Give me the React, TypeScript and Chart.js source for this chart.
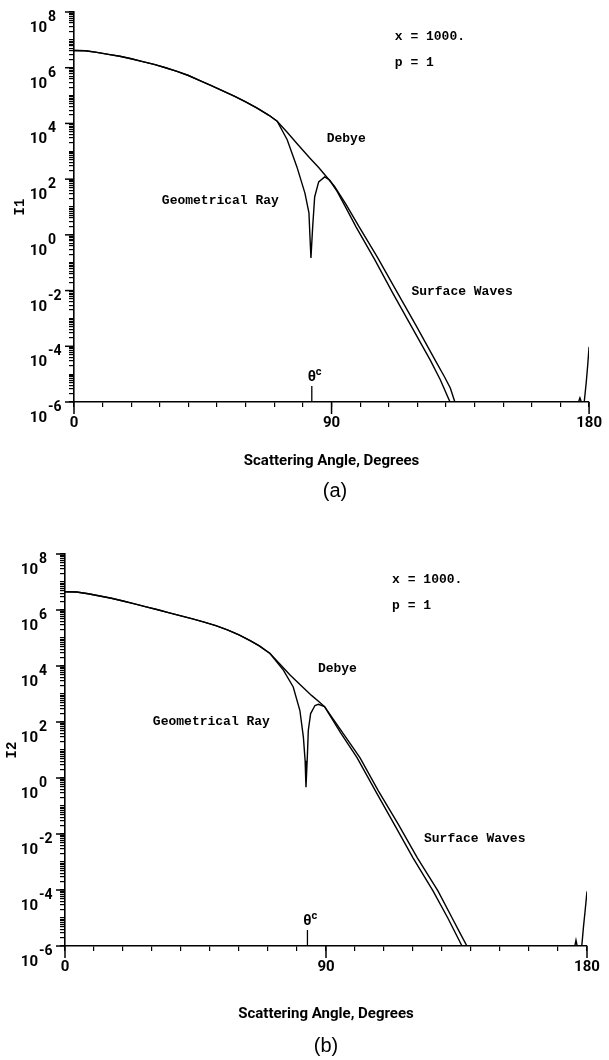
import React, { useEffect, useRef } from 'react';
import { Chart, registerables } from 'chart.js';

Chart.register(...registerables);

// ---------------- data ----------------
const X_TICK_LABELS = [0, 90, 180];
const X_MINOR_TICKS = [0, 10, 20, 30, 40, 50, 60, 70, 80, 90, 100, 110, 120, 130, 140, 150, 160, 170, 180];
const Y_LABEL_EXPONENTS = [8, 6, 4, 2, 0, -2, -4, -6];
const Y_DECADES = [-6, -5, -4, -3, -2, -1, 0, 1, 2, 3, 4, 5, 6, 7];
const Y_MULTIPLIERS = [1, 2, 3, 4, 5, 6, 7, 8, 9];

// Panel (a): I1
const A_DEBYE_ANGLE = [0, 4, 8, 12, 16, 20, 24, 28, 32, 36, 40, 44, 48, 52, 56, 60, 64, 68, 71,
  74.5, 77.9, 82.4, 85.5, 88.3, 91, 95, 99.7, 106, 113.1, 119.5, 126.2, 129.5, 131.5, 133.1,
  145, 160, 176.3, 176.8, 177.3, 178.3, 179, 179.5, 180];
const A_DEBYE_I1 = [4.17e6, 4.07e6, 3.55e6, 3.02e6, 2.57e6, 2.09e6, 1.66e6, 1.32e6, 1.0e6, 7.4e5, 5.25e5, 3.47e5, 2.29e5, 1.48e5, 9.5e4, 5.9e4, 3.55e4, 2.0e4, 1.2e4,
  4.8e3, 1.9e3, 575, 263, 120, 56, 12.6, 1.9, 0.158, 8.1e-3, 5.6e-4, 3.2e-5, 7.9e-6, 3.2e-6, 1e-6,
  1e-6, 1e-6, 1e-6, 1.4e-6, 1e-6, 1e-6, 5e-6, 2e-5, 9.5e-5];
const A_RAY_ANGLE = [0, 4, 8, 12, 16, 20, 24, 28, 32, 36, 40, 44, 48, 52, 56, 60, 64, 68, 71,
  74.5, 77.9, 80.7, 82.1, 82.4, 82.8, 83.4, 84.1, 85.5, 87.6, 89.3, 92, 95, 98.6, 105, 111.4, 118, 124.5, 128, 131.4, 150, 178];
const A_RAY_I1 = [4.17e6, 4.07e6, 3.55e6, 3.02e6, 2.57e6, 2.09e6, 1.66e6, 1.32e6, 1.0e6, 7.4e5, 5.25e5, 3.47e5, 2.29e5, 1.48e5, 9.5e4, 5.9e4, 3.55e4, 2.0e4, 1.2e4,
  2.6e3, 275, 31.6, 6.2, 1.17, 0.148, 1.9, 22.9, 79.4, 120, 93, 35.5, 9.5, 1.9, 0.135, 8.1e-3, 5.0e-4, 3.2e-5, 6.3e-6, 1e-6, 1e-6, 1e-6];

// Panel (b): I2
const B_DEBYE_ANGLE = [0, 4, 8, 12, 16, 20, 24, 28, 32, 36, 40, 44, 48, 52, 56, 60, 64, 67, 70.7,
  74, 77.6, 82.2, 85, 87.9, 89.5, 95, 101.7, 108, 114.8, 121.5, 128.6, 133.5, 136, 138.6,
  150, 165, 175.8, 176.2, 176.6, 178.2, 178.8, 179.3, 180];
const B_DEBYE_I2 = [4.47e6, 4.37e6, 3.8e6, 3.16e6, 2.63e6, 2.09e6, 1.66e6, 1.29e6, 1.02e6, 7.9e5, 6.2e5, 4.8e5, 3.7e5, 2.75e5, 1.95e5, 1.29e5, 7.9e4, 5.2e4, 2.8e4,
  1.2e4, 4.8e3, 1.66e3, 891, 501, 355, 53.7, 5.37, 0.355, 0.0234, 1.41e-3, 9.3e-5, 1e-5, 3.2e-6, 1e-6,
  1e-6, 1e-6, 1e-6, 1.6e-6, 1e-6, 1e-6, 5e-6, 1.6e-5, 8.9e-5];
const B_RAY_ANGLE = [0, 4, 8, 12, 16, 20, 24, 28, 32, 36, 40, 44, 48, 52, 56, 60, 64, 67, 70.7,
  75.3, 78.7, 81.0, 82.2, 82.8, 83.1, 83.6, 83.9, 84.7, 86.2, 87.4, 89.5, 95, 100.7, 107, 113.4, 120, 126.9, 132, 136.9, 155, 178];
const B_RAY_I2 = [4.47e6, 4.37e6, 3.8e6, 3.16e6, 2.63e6, 2.09e6, 1.66e6, 1.29e6, 1.02e6, 7.9e5, 6.2e5, 4.8e5, 3.7e5, 2.75e5, 1.95e5, 1.29e5, 7.9e4, 5.2e4, 2.8e4,
  7.1e3, 1.78e3, 257, 28.8, 4.17, 0.47, 7.2, 50, 200, 389, 427, 355, 41.7, 5.37, 0.355, 0.0234, 1.41e-3, 9.3e-5, 1e-5, 1e-6, 1e-6, 1e-6];

const THETA_C_A = 83.1;
const THETA_C_B = 83.6;

// annotation texts (anchored in data coordinates: angle, intensity)
const A_NOTES = [
  { text: 'x = 1000.', x: 112.1, y: 1.26e7 },
  { text: 'p = 1', x: 112.1, y: 1.5e6 },
  { text: 'Debye', x: 88.3, y: 2.8e3 },
  { text: 'Geometrical Ray', x: 30.7, y: 16.6 },
  { text: 'Surface Waves', x: 117.9, y: 8.9e-3 },
];
const B_NOTES = [
  { text: 'x = 1000.', x: 112.8, y: 1.2e7 },
  { text: 'p = 1', x: 112.8, y: 1.4e6 },
  { text: 'Debye', x: 87.2, y: 8.3e3 },
  { text: 'Geometrical Ray', x: 30.3, y: 105 },
  { text: 'Surface Waves', x: 123.8, y: 6.8e-3 },
];

// ---------------- helpers ----------------
const zip = (xs: number[], ys: number[]) => xs.map((x, i) => ({ x, y: ys[i] }));
const Y_TICK_VALUES = (() => {
  const out: number[] = [];
  for (const d of Y_DECADES) for (const m of Y_MULTIPLIERS) out.push(m * Math.pow(10, d));
  out.push(1e8);
  return out;
})();

const NUM_FONT = "Roboto, 'DejaVu Sans', sans-serif";
const MONO_FONT = "'Liberation Mono', 'DejaVu Sans Mono', monospace";

const overlayPlugin = {
  id: 'overlay',
  afterDraw(chart: any, _args: any, opts: any) {
    const { ctx, chartArea } = chart;
    const xs = chart.scales.x;
    const ys = chart.scales.y;
    const left = chartArea.left;
    const bottom = chartArea.bottom;
    ctx.save();
    ctx.fillStyle = '#000';
    ctx.strokeStyle = '#000';
    // y major ticks and labels 10^n
    ctx.lineWidth = 1.5;
    for (const e of Y_LABEL_EXPONENTS) {
      const py = ys.getPixelForValue(Math.pow(10, e));
      ctx.beginPath();
      ctx.moveTo(left - 9, py);
      ctx.lineTo(left, py);
      ctx.stroke();
      ctx.font = `bold 15px ${NUM_FONT}`;
      ctx.textBaseline = 'alphabetic';
      ctx.textAlign = 'right';
      ctx.fillText('10', left - 27, py + 20);
      ctx.textAlign = 'left';
      ctx.font = `bold 14px ${NUM_FONT}`;
      ctx.fillText(String(e), left - 26, py + 9);
    }
    // x major ticks
    for (const v of X_TICK_LABELS) {
      const px = xs.getPixelForValue(v);
      ctx.beginPath();
      ctx.moveTo(px, bottom);
      ctx.lineTo(px, bottom + 12);
      ctx.stroke();
    }
    // theta c marker
    const tx = xs.getPixelForValue(opts.thetaC);
    ctx.lineWidth = 1.3;
    ctx.beginPath();
    ctx.moveTo(tx, bottom);
    ctx.lineTo(tx, bottom - 16);
    ctx.stroke();
    ctx.font = `bold 14px ${NUM_FONT}`;
    ctx.textAlign = 'center';
    ctx.fillText('θ', tx, bottom - 21);
    ctx.font = `bold 11px ${NUM_FONT}`;
    ctx.textAlign = 'left';
    ctx.fillText('c', tx + 4, bottom - 27);
    // annotations
    ctx.font = `bold 13px ${MONO_FONT}`;
    ctx.textAlign = 'left';
    ctx.textBaseline = 'middle';
    for (const n of opts.notes) {
      ctx.fillText(n.text, xs.getPixelForValue(n.x), ys.getPixelForValue(n.y));
    }
    ctx.restore();
  },
};

type PanelProps = {
  top: number;
  height: number;
  padTop: number;
  padRight: number;
  yWidth: number;
  xHeight: number;
  xTitlePad: number;
  yTitlePad: number;
  yTitle: string;
  debye: { x: number; y: number }[];
  ray: { x: number; y: number }[];
  notes: { text: string; x: number; y: number }[];
  thetaC: number;
};

function Panel(p: PanelProps) {
  const ref = useRef<HTMLCanvasElement>(null);
  useEffect(() => {
    const canvas = ref.current!;
    const chart = new Chart(canvas, {
      type: 'line',
      data: {
        datasets: [
          { label: 'Debye', data: p.debye, borderColor: '#000', borderWidth: 1.4, pointRadius: 0, tension: 0, fill: false },
          { label: 'Geometrical Ray', data: p.ray, borderColor: '#000', borderWidth: 1.4, pointRadius: 0, tension: 0, fill: false },
        ],
      },
      options: {
        animation: false,
        responsive: false,
        maintainAspectRatio: false,
        devicePixelRatio: 1,
        layout: { padding: { left: 0, top: p.padTop, right: p.padRight, bottom: 0 } },
        plugins: {
          legend: { display: false },
          tooltip: { enabled: false },
          title: { display: false },
          overlay: { thetaC: p.thetaC, notes: p.notes },
        } as any,
        scales: {
          x: {
            type: 'linear',
            min: 0,
            max: 180,
            afterFit: (s: any) => { s.height = p.xHeight; },
            afterBuildTicks: (s: any) => { s.ticks = X_MINOR_TICKS.map((v) => ({ value: v })); },
            grid: { drawOnChartArea: false, drawTicks: true, tickLength: 5, color: '#000', lineWidth: 1.2 },
            border: { display: true, color: '#000', width: 1.6 },
            ticks: {
              autoSkip: false,
              maxRotation: 0,
              padding: 7,
              color: '#000',
              font: { family: NUM_FONT, weight: 'bold', size: 15 },
              callback: (v: any) => (X_TICK_LABELS.includes(Number(v)) ? String(v) : ''),
            },
            title: {
              display: true,
              text: 'Scattering Angle, Degrees',
              color: '#000',
              font: { family: NUM_FONT, weight: 'bold', size: 15 },
              padding: { top: 0, bottom: p.xTitlePad },
            },
          },
          y: {
            type: 'logarithmic',
            min: 1e-6,
            max: 1e8,
            afterFit: (s: any) => { s.width = p.yWidth; },
            afterBuildTicks: (s: any) => { s.ticks = Y_TICK_VALUES.map((v) => ({ value: v })); },
            grid: { drawOnChartArea: false, drawTicks: true, tickLength: 5, color: '#000', lineWidth: 1.2 },
            border: { display: true, color: '#000', width: 1.6 },
            ticks: { display: false, autoSkip: false },
            title: {
              display: true,
              text: p.yTitle,
              color: '#000',
              font: { family: MONO_FONT, weight: 'bold', size: 14 },
              padding: { top: p.yTitlePad, bottom: 0 },
            },
          },
        },
      } as any,
      plugins: [overlayPlugin],
    });
    return () => chart.destroy();
  }, []);
  return (
    <canvas
      ref={ref}
      width={609}
      height={p.height}
      style={{ position: 'absolute', left: 0, top: p.top, width: 609, height: p.height }}
    />
  );
}

const captionStyle: React.CSSProperties = {
  position: 'absolute',
  width: 100,
  textAlign: 'center',
  fontFamily: "'Liberation Sans', Arial, sans-serif",
  fontSize: 20,
  lineHeight: '24px',
  color: '#000',
};

export default function App() {
  return (
    <div style={{ position: 'absolute', left: 0, top: 0, width: 609, height: 1060, background: '#fff', overflow: 'hidden' }}>
      <Panel
        top={0}
        height={520}
        padTop={12}
        padRight={13}
        yWidth={74}
        xHeight={118}
        xTitlePad={50}
        yTitlePad={12}
        yTitle="I1"
        debye={zip(A_DEBYE_ANGLE, A_DEBYE_I1)}
        ray={zip(A_RAY_ANGLE, A_RAY_I1)}
        notes={A_NOTES}
        thetaC={THETA_C_A}
      />
      <div style={{ ...captionStyle, left: 285, top: 478 }}>(a)</div>
      <Panel
        top={520}
        height={540}
        padTop={34}
        padRight={22}
        yWidth={65}
        xHeight={114}
        xTitlePad={37}
        yTitlePad={4}
        yTitle="I2"
        debye={zip(B_DEBYE_ANGLE, B_DEBYE_I2)}
        ray={zip(B_RAY_ANGLE, B_RAY_I2)}
        notes={B_NOTES}
        thetaC={THETA_C_B}
      />
      <div style={{ ...captionStyle, left: 276, top: 1033 }}>(b)</div>
    </div>
  );
}
